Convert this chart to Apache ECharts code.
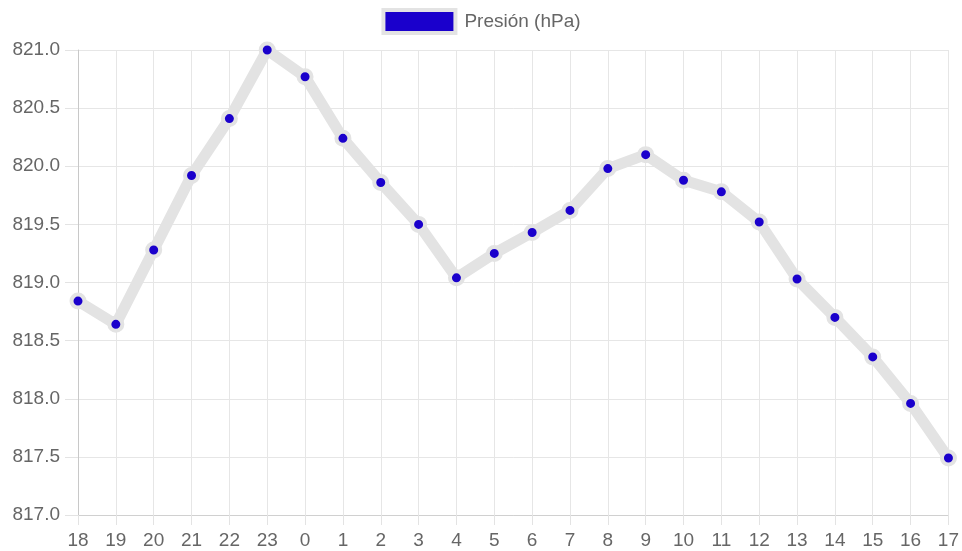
<!DOCTYPE html>
<html>
<head>
<meta charset="utf-8">
<script src="https://cdn.jsdelivr.net/npm/echarts@6/dist/echarts.min.js"></script>
<style>
  html, body { margin: 0; padding: 0; background: #fff; }
  #chart { width: 962px; height: 551px; }
</style>
</head>
<body>
<div id="chart"></div>
<script>
// horas del día
var hours = ['18', '19', '20', '21', '22', '23', '0', '1', '2', '3', '4', '5',
  '6', '7', '8', '9', '10', '11', '12', '13', '14', '15', '16', '17'];
// presión en hPa
var pressure = [818.84, 818.64, 819.28, 819.92, 820.41, 821.0, 820.77, 820.24,
  819.86, 819.50, 819.04, 819.25, 819.43, 819.62, 819.98, 820.10,
  819.88, 819.78, 819.52, 819.03, 818.70, 818.36, 817.96, 817.49];
var yTicks = { min: 817, max: 821, step: 0.5 };

var chart = echarts.init(document.getElementById('chart'));
var font = 'Liberation Sans, Arial, Helvetica, sans-serif';

var option = {
  animation: false,
  textStyle: { fontFamily: font },
  legend: {
    top: 3,
    left: 'center',
    icon: 'rect',
    itemWidth: 72,
    itemHeight: 23,
    itemGap: 10,
    textStyle: { color: '#666', fontSize: 19, fontFamily: font, padding: [0, 0, 0, 4] },
    itemStyle: { color: '#1a00cc', borderColor: '#e3e3e3', borderWidth: 4 },
    data: ['Presión (hPa)']
  },
  grid: { left: 78, right: 13, top: 50, bottom: 36 },
  xAxis: {
    type: 'category',
    boundaryGap: false,
    data: hours,
    axisLine: { lineStyle: { color: '#d0d0d0' } },
    axisTick: { show: true, length: 10, alignWithLabel: true, lineStyle: { color: '#e3e3e3' } },
    splitLine: { show: true, lineStyle: { color: '#e6e6e6' } },
    axisLabel: { color: '#666', fontSize: 19, margin: 16, fontFamily: font, interval: 0 }
  },
  yAxis: {
    type: 'value',
    min: yTicks.min,
    max: yTicks.max,
    interval: yTicks.step,
    axisLine: { show: true, lineStyle: { color: '#c8c8c8' } },
    axisTick: { show: true, length: 13, lineStyle: { color: '#e3e3e3' } },
    splitLine: { show: true, lineStyle: { color: '#e6e6e6' } },
    axisLabel: {
      color: '#666', fontSize: 19, margin: 18, fontFamily: font,
      formatter: function (v) { return v.toFixed(1); }
    }
  },
  series: [{
    name: 'Presión (hPa)',
    type: 'line',
    data: pressure,
    symbol: 'circle',
    symbolSize: 13,
    lineStyle: { color: '#e3e3e3', width: 11 },
    itemStyle: { color: '#1a00cc', borderColor: '#e3e3e3', borderWidth: 4 }
  }]
};

chart.setOption(option);
</script>
</body>
</html>
